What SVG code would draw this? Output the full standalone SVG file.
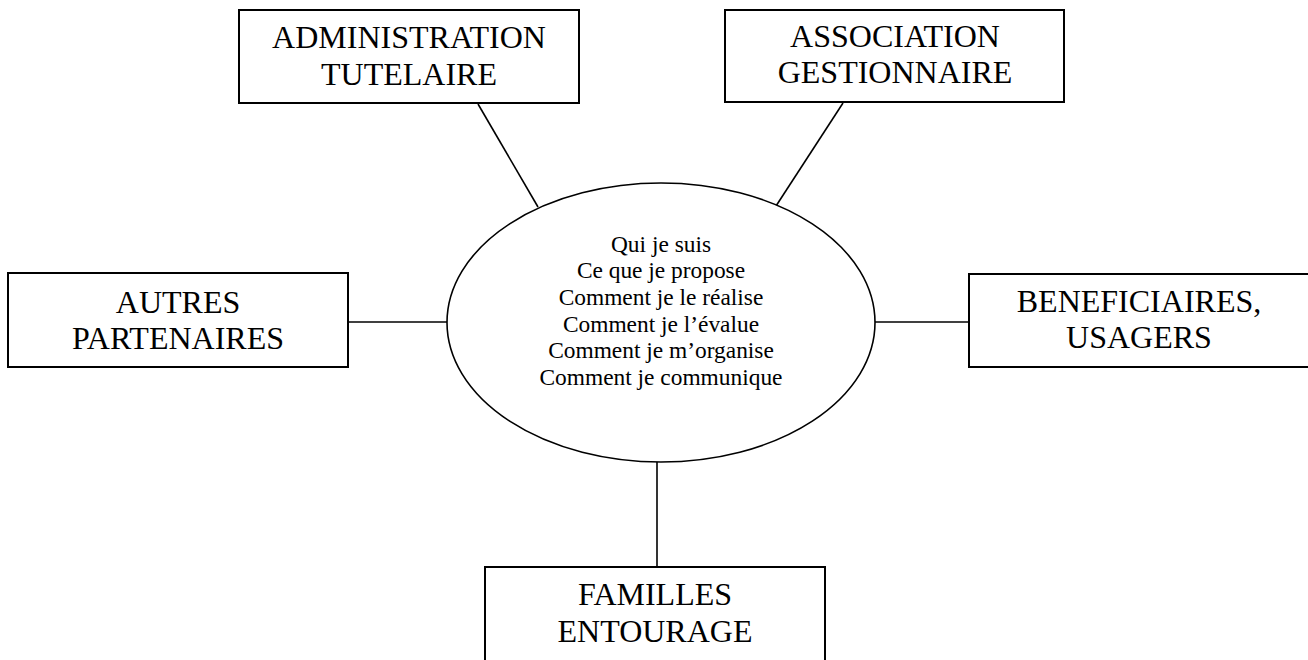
<svg xmlns="http://www.w3.org/2000/svg" width="1308" height="660" viewBox="0 0 1308 660">
  <style>
    .box { fill: #fff; stroke: #000; stroke-width: 2; }
    .hub { fill: #fff; stroke: #000; stroke-width: 1.6; }
    .link { stroke: #000; stroke-width: 1.6; fill: none; }
    .lbl { font-family: "Liberation Serif", "Times New Roman", serif; font-size: 32px; fill: #000; text-anchor: middle; }
    .hubtxt { font-family: "Liberation Serif", "Times New Roman", serif; font-size: 23.4px; fill: #000; text-anchor: middle; }
  </style>
  <rect width="1308" height="660" fill="#fff"/>

  <g id="connectors">
    <line class="link" x1="478" y1="104" x2="538" y2="207"/>
    <line class="link" x1="843" y1="103" x2="776" y2="206"/>
    <line class="link" x1="348" y1="322" x2="447" y2="322"/>
    <line class="link" x1="875" y1="322" x2="969" y2="322"/>
    <line class="link" x1="657" y1="462" x2="657" y2="567"/>
  </g>

  <g id="hub">
    <ellipse class="hub" cx="661" cy="322.5" rx="214" ry="139.5"/>
    <text class="hubtxt" x="661" y="252">Qui je suis</text>
    <text class="hubtxt" x="661" y="278">Ce que je propose</text>
    <text class="hubtxt" x="661" y="305">Comment je le réalise</text>
    <text class="hubtxt" x="661" y="332">Comment je l’évalue</text>
    <text class="hubtxt" x="661" y="358">Comment je m’organise</text>
    <text class="hubtxt" x="661" y="385">Comment je communique</text>
  </g>

  <g id="administration">
    <rect class="box" x="239" y="10" width="340" height="93"/>
    <text class="lbl" x="409" y="48">ADMINISTRATION</text>
    <text class="lbl" x="409" y="85">TUTELAIRE</text>
  </g>

  <g id="association">
    <rect class="box" x="725" y="10" width="339" height="92"/>
    <text class="lbl" x="895" y="47">ASSOCIATION</text>
    <text class="lbl" x="895" y="83">GESTIONNAIRE</text>
  </g>

  <g id="autres">
    <rect class="box" x="8" y="273" width="340" height="94"/>
    <text class="lbl" x="178" y="313">AUTRES</text>
    <text class="lbl" x="178" y="349">PARTENAIRES</text>
  </g>

  <g id="beneficiaires">
    <rect class="box" x="969" y="274" width="341" height="93"/>
    <text class="lbl" x="1139" y="312">BENEFICIAIRES,</text>
    <text class="lbl" x="1139" y="348">USAGERS</text>
  </g>

  <g id="familles">
    <rect class="box" x="485" y="567" width="340" height="100"/>
    <text class="lbl" x="655" y="605">FAMILLES</text>
    <text class="lbl" x="655" y="642">ENTOURAGE</text>
  </g>
</svg>
